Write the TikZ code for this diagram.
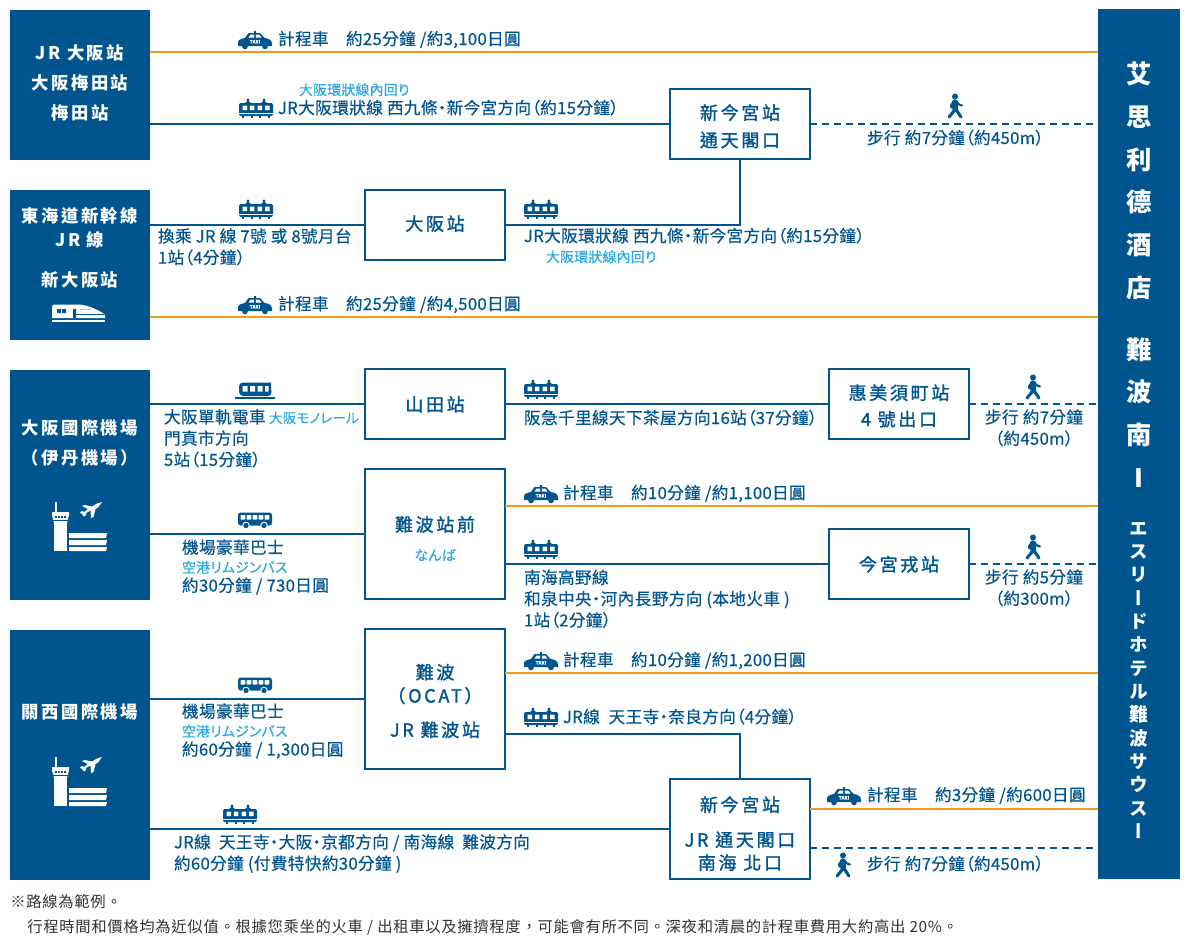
\documentclass[tikz,border=0pt]{standalone}
\usepackage{fontspec}
\setmainfont{Noto Sans CJK TC}[RawFeature={+palt},LetterSpace=2,FakeBold=0.4]
\newfontfamily\lbfont[LetterSpace=14]{Noto Sans CJK TC}
\newfontfamily\wbfont[LetterSpace=15,FakeBold=1.5]{Noto Sans CJK TC}
\newfontfamily\fnfont[LetterSpace=4.5]{Noto Sans CJK TC}
\newfontfamily\hofont[RawFeature={+vert}]{Noto Sans CJK TC}
\definecolor{brandblue}{HTML}{00558F}
\definecolor{linkorange}{HTML}{F7981D}
\definecolor{skyblue}{HTML}{29A9E0}
\definecolor{noteblack}{HTML}{333333}
\newcommand\st{\rule[-1.5pt]{0pt}{12pt}}
\newcommand\sm[1]{{\normalfont\fontsize{10.4pt}{\baselineskip}\selectfont\color{skyblue}#1}}
\newcommand\bbox[8]{%
  \pgfmathsetmacro\bw{(#5-#3)*.75}%
  \pgfmathsetmacro\bh{(#6-#4)*.75}%
  \node[#1,minimum width=\bw pt,minimum height=\bh pt] (#2) at ({(#3+#5)/2},{(#4+#6)/2})
    {\raisebox{#7}[0pt][0pt]{\begin{tabular}{@{}c@{}}#8\end{tabular}}};}
\newcommand\tx[4]{\node[txt] (#1) at (#2,#3) {#4};}
\newcommand\mtx[5][]{\node[mtxt,#1] (#2) at (#3,#4) {#5};}
\tikzset{
  bluebox/.style={fill=brandblue,text=white,inner sep=0pt,outer sep=0pt},
  whitebox/.style={draw=brandblue,line width=1.5pt,fill=white,text=brandblue,inner sep=0pt,outer sep=0pt},
  txt/.style={anchor=west,inner sep=0pt,outer sep=0pt,text=brandblue,font=\fontsize{12.5pt}{16pt}\selectfont,text height=10.5pt,text depth=1.5pt},
  mtxt/.style={anchor=west,align=left,inner sep=0pt,outer sep=0pt,text=brandblue,font=\fontsize{12.5pt}{16pt}\selectfont},
  smalltxt/.style={txt,text=skyblue,font=\fontsize{10.4pt}{12pt}\selectfont},
  link/.style={draw=brandblue,line width=1.5pt},
  orangelink/.style={draw=linkorange,line width=1.5pt},
  walklink/.style={draw=brandblue,line width=1.5pt,dash pattern=on 5.5pt off 3.5pt},
  taxiicon/.pic={
    \fill[brandblue] (-17,5) .. controls (-17.5,1) and (-15,0) .. (-10,-1) -- (-6.5,-6) -- (-1,-6) -- (-1,-8) -- (1,-8) -- (1,-6) -- (5,-6) -- (9.5,-1) .. controls (14,-.5) and (17,1) .. (17,5) -- (17,7) -- (-17,7) -- cycle;
    \fill[brandblue] (-10,7.5) circle (2.8) (10,7.5) circle (2.8);
    \fill[white] (-6.5,-1.5) -- (-4.5,-4.3) -- (-.8,-4.3) -- (-.8,-1.5) -- cycle (.8,-1.5) -- (.8,-4.3) -- (4.3,-4.3) -- (6.5,-1.5) -- cycle;
    \node[inner sep=0pt,text=white,font=\bfseries\fontsize{3.4pt}{4pt}\selectfont] (-sign) at (0,2.8) {TAXI};
  },
  trainicon/.pic={
    \fill[brandblue,rounded corners=1.5pt] (-17,8) -- (-17,-5) -- (17,-5) -- (17,8) -- cycle;
    \fill[white] (-13.5,-2.5) rectangle (-9,2) (-6.2,-2.5) rectangle (-1.7,2) (1.7,-2.5) rectangle (6.2,2) (9,-2.5) rectangle (13.5,2);
    \fill[white] (-17,4.8) rectangle (17,5.4);
    \foreach \a in {-8,8} {
      \fill[brandblue] (\a-3,-5) -- (\a,-7.5) -- (\a+3,-5) -- cycle;
      \fill[brandblue] (\a,-8) circle (1.7);
    }
    \foreach \a in {-13,-4,4,13} \fill[brandblue] (\a-1,8) rectangle (\a+1,10);
  },
  busicon/.pic={
    \fill[brandblue,rounded corners=2pt] (-17,5.5) -- (-17,-7.5) -- (17,-7.5) -- (17,5.5) -- cycle;
    \foreach \a in {-14.5,-8.5,-2.5,3.5,9.5} \fill[white,rounded corners=.5pt] (\a,-5) rectangle (\a+4.8,-.5);
    \foreach \a in {-9,9} \fill[brandblue,draw=white,line width=.7pt] (\a,5.5) circle (3.3);
  },
  monoicon/.pic={
    \fill[brandblue,rounded corners=3pt] (-16,5) -- (-16,-8.5) -- (13,-8.5) .. controls (15,-8.5) and (16,-4) .. (17,5) -- cycle;
    \fill[white] (-12.5,-5) rectangle (-7.5,.5) (-5,-5) rectangle (0,.5) (2.5,-5) rectangle (7.5,.5) (10,-5) rectangle (13.5,.5);
    \fill[brandblue] (-20,5.5) rectangle (20,7.5);
  },
  walkicon/.pic={
    \fill[brandblue] (-1,-9.5) circle (3);
    \draw[brandblue,line width=3.8pt,line cap=round] (-1,-4) -- (-1,2);
    \draw[brandblue,line width=2.3pt,line cap=round,line join=round] (-1.5,2) -- (-2,5) -- (-7,11) (-.5,2) -- (1,5) -- (5,11);
    \draw[brandblue,line width=1.6pt,line cap=round,line join=round] (0,-5) -- (3,-1.5) -- (6,-.5) (-2,-5) -- (-5,-.5) -- (-4.5,1.5);
  },
  bulleticon/.pic={
    \fill[white] (-27,5) -- (-27,-6) .. controls (-27,-8) and (-26,-8.5) .. (-24,-8.5) -- (0,-8.5) .. controls (8,-8.5) and (24,-1) .. (26,2) -- (26,5) -- cycle;
    \fill[brandblue] (-22,-4) rectangle (-18,0) (-17,-4) rectangle (-13,0) (-6,-4) rectangle (-3,5);
    \fill[brandblue] (-3,1) rectangle (25,1.7);
    \draw[skyblue!50!white,line width=.8pt] (1,-3.5) -- (12,-3.5);
    \fill[white] (-27,7) rectangle (26,8.5);
  },
  airporticon/.pic={
    \fill[white] (-24.8,-24) rectangle (-23.4,-14);
    \fill[white] (-28,-14) -- (-11,-14) -- (-11,-11) -- (-13,-3) -- (-26,-3) -- (-28,-11) -- cycle;
    \fill[white] (-26,-3) rectangle (-13,25);
    \foreach \a in {-25,-22,-19,-16} \fill[brandblue] (\a,-10.5) rectangle (\a+1.6,-8.5);
    \fill[brandblue] (-28,-6) rectangle (-11,-5);
    \fill[white] (-11,7) -- (27,7) -- (26,12) -- (-11,12) -- cycle;
    \fill[white] (-11,14) -- (27,14) -- (26,19) -- (-11,19) -- cycle;
    \fill[white] (-11,21) -- (27,21) -- (26,25) -- (-11,25) -- cycle;
    \fill[white] (22,-24) -- (18,-18.5) -- (15.5,-17) -- (13.5,-9) -- (11,-8) -- (10.5,-15.5) -- (6,-13) -- (6,-11) -- (4,-9.5) -- (2,-12) -- (0,-13.5) -- (2,-15) -- (4,-14) -- (8,-17) -- (2,-20) -- (4.5,-21) -- (12,-19.5) -- (17,-22.5) -- cycle;
  },
}
\begin{document}
\begin{tikzpicture}[x=.75pt,y=-.75pt]
\useasboundingbox (0,0) rectangle (1190,946);
\fill[white] (0,0) rectangle (1190,946);
% blue origin boxes
\bbox{bluebox,font=\lbfont\bfseries\fontsize{13pt}{22.5pt}\selectfont}{jr}{10}{10}{150}{160}{-1.5pt}{JR 大阪站\\大阪梅田站\\梅田站}
\bbox{bluebox,font=\lbfont\bfseries\fontsize{13pt}{18pt}\selectfont}{shin}{10}{190}{150}{340}{8.25pt}{東海道新幹線\\JR 線\\[12pt]新大阪站}
\bbox{bluebox,font=\lbfont\bfseries\fontsize{13pt}{22.5pt}\selectfont}{itami}{10}{370}{150}{600}{28.25pt}{大阪國際機場\\（伊丹機場）}
\bbox{bluebox,font=\lbfont\bfseries\fontsize{13pt}{22.5pt}\selectfont}{kix}{10}{630}{150}{880}{29.25pt}{關西國際機場}
\node[bluebox,minimum width=61.5pt,minimum height=652.5pt] (hotel) at (1139,444) {};
\node[anchor=north,inner sep=0pt,align=center,text=white,font=\hofont\bfseries\fontsize{19pt}{32pt}\selectfont] (hotelzh) at (1139,62) {艾\\思\\利\\德\\酒\\店\\[14.5pt]難\\波\\南\\I};
\node[anchor=north,inner sep=0pt,align=center,text=white,font=\hofont\bfseries\fontsize{14pt}{17.5pt}\selectfont] (hotelja) at (1139,522) {エ\\ス\\リ\\ー\\ド\\ホ\\テ\\ル\\難\\波\\サ\\ウ\\ス\\ー};
% white station boxes
\tikzset{wb/.style={whitebox,font=\wbfont\fontsize{13.5pt}{20.6pt}\selectfont}}
\bbox{wb}{ntmy}{670}{88.5}{810}{158.5}{-6.75pt}{新今宮站\\通天閣口}
\bbox{wb}{osaka}{365}{189.5}{505}{259.5}{-3.95pt}{大阪站}
\bbox{wb}{yamada}{365}{368.5}{505}{438.5}{-5.2pt}{山田站}
\bbox{wb,font=\wbfont\fontsize{13.5pt}{19.9pt}\selectfont}{ebisu}{829}{368.5}{969}{438.5}{-6.6pt}{惠美須町站\\4 號出口}
\bbox{wb,font=\wbfont\fontsize{13.5pt}{21.75pt}\selectfont}{nambaeki}{365}{468.5}{505}{598.5}{-8.5pt}{難波站前\\\sm{なんば}}
\bbox{wb}{imamiya}{829}{528.5}{969}{598.5}{-5.2pt}{今宮戎站}
\bbox{wb,font=\wbfont\fontsize{13.5pt}{17.6pt}\selectfont}{ocat}{365}{628.5}{505}{769}{-6.9pt}{難波\\（OCAT）\\[8pt]JR 難波站}
\bbox{wb,font=\wbfont\fontsize{13.5pt}{17.25pt}\selectfont}{shin2}{670}{778.5}{810}{879}{-9pt}{新今宮站\\[9pt]JR 通天閣口\\南海 北口}
% connectors
\draw[orangelink] (jr.east |- 0,52) -- (hotel.west |- 0,52);
\draw[link] (jr.east |- ntmy.west) -- (ntmy.west);
\draw[walklink] (ntmy.east) -- (hotel.west |- ntmy.east);
\draw[link] (shin.east |- osaka.west) -- (osaka.west);
\draw[link] (ntmy.south) |- (osaka.east);
\draw[orangelink] (shin.east |- 0,317) -- (hotel.west |- 0,317);
\draw[link] (itami.east |- yamada.west) -- (yamada.west);
\draw[link] (yamada.east) -- (ebisu.west);
\draw[walklink] (ebisu.east) -- (hotel.west |- ebisu.east);
\draw[link] (itami.east |- nambaeki.west) -- (nambaeki.west);
\draw[orangelink] (nambaeki.east |- 0,506) -- (hotel.west |- 0,506);
\draw[link] (nambaeki.east |- imamiya.west) -- (imamiya.west);
\draw[walklink] (imamiya.east) -- (hotel.west |- imamiya.east);
\draw[link] (kix.east |- ocat.west) -- (ocat.west);
\draw[orangelink] (ocat.east |- 0,673) -- (hotel.west |- 0,673);
\draw[link] (ocat.east |- 0,734) -| (shin2.north);
\draw[link] (kix.east |- shin2.west) -- (shin2.west);
\draw[orangelink] (shin2.east |- 0,809) -- (hotel.west |- 0,809);
\draw[walklink] (shin2.east |- 0,848) -- (hotel.west |- 0,848);
% icons
\pic (taxi1) at (255,39) {taxiicon};
\pic (train1) at (256,108) {trainicon};
\pic (walk1) at (956,106) {walkicon};
\pic (train2) at (256,209) {trainicon};
\pic (train3) at (541,209) {trainicon};
\pic (taxi2) at (255,304) {taxiicon};
\pic (bullet1) at (79,313) {bulleticon};
\pic (mono1) at (255,391) {monoicon};
\pic (train4) at (541,389) {trainicon};
\pic (walk2) at (1034,387) {walkicon};
\pic (air1) at (80,526) {airporticon};
\pic (bus1) at (255,520) {busicon};
\pic (taxi3) at (541,493) {taxiicon};
\pic (train5) at (541,549) {trainicon};
\pic (walk3) at (1034,547) {walkicon};
\pic (air2) at (80,781) {airporticon};
\pic (bus2) at (255,685) {busicon};
\pic (taxi4) at (541,660) {taxiicon};
\pic (train6) at (541,717) {trainicon};
\pic (train7) at (240,814) {trainicon};
\pic (taxi5) at (844,795) {taxiicon};
\pic (walk4) at (844,865) {walkicon};
% route labels
\tx{t1}{278}{39}{計程車　約25分鐘 /約3,100日圓}
\node[smalltxt] (s1) at (299,89) {大阪環狀線內回り};
\tx{t2}{278}{108}{JR大阪環狀線 西九條‧新今宮方向（約15分鐘）}
\tx{t3}{867}{138}{步行 約7分鐘（約450m）}
\mtx{t4}{158}{247}{\st 換乘 JR 線 7號 或 8號月台\\\st 1站（4分鐘）}
\tx{t5}{524}{236}{JR大阪環狀線 西九條‧新今宮方向（約15分鐘）}
\node[smalltxt] (s2) at (546,256) {大阪環狀線內回り};
\tx{t6}{278}{304}{計程車　約25分鐘 /約4,500日圓}
\mtx{t7}{164}{438.5}{\st 大阪單軌電車\\\st 門真市方向\\\st 5站（15分鐘）}
\node[smalltxt,font=\fontsize{10.1pt}{12pt}\selectfont] (s3) at (269,417) {大阪モノレール};
\tx{t8}{524}{418}{阪急千里線天下茶屋方向16站（37分鐘）}
\mtx[anchor=center,align=center]{t9}{1034}{428}{\st 步行 約7分鐘\\\st（約450m）}
\mtx[font=\fontsize{12.5pt}{14.25pt}\selectfont]{t10}{182}{567}{\st 機場豪華巴士\\\st\sm{空港リムジンバス}\\\st 約30分鐘 / 730日圓}
\tx{t11}{563}{493}{計程車　約10分鐘 /約1,100日圓}
\mtx{t12}{524}{599}{\st 南海高野線\\\st 和泉中央‧河內長野方向 (本地火車 )\\\st 1站（2分鐘）}
\mtx[anchor=center,align=center]{t13}{1034}{588}{\st 步行 約5分鐘\\\st（約300m）}
\mtx[font=\fontsize{12.5pt}{14.25pt}\selectfont]{t14}{182}{731}{\st 機場豪華巴士\\\st\sm{空港リムジンバス}\\\st 約60分鐘 / 1,300日圓}
\tx{t15}{563}{660}{計程車　約10分鐘 /約1,200日圓}
\tx{t16}{563}{717}{JR線\hspace{3.5pt} 天王寺‧奈良方向（4分鐘）}
\mtx{t17}{174}{853.5}{\st JR線\hspace{3pt} 天王寺‧大阪‧京都方向 / 南海線\hspace{3pt} 難波方向\\\st 約60分鐘 (付費特快約30分鐘 )}
\tx{t18}{867}{795}{計程車　約3分鐘 /約600日圓}
\tx{t19}{867}{864}{步行 約7分鐘（約450m）}
% note
\node[anchor=west,inner sep=0pt,text=noteblack,font=\fnfont\fontsize{11.5pt}{14pt}\selectfont] (note1) at (10,902) {※路線為範例。};
\node[anchor=west,inner sep=0pt,text=noteblack,font=\fnfont\fontsize{11.5pt}{14pt}\selectfont] (note2) at (27,927) {行程時間和價格均為近似值。根據您乘坐的火車 / 出租車以及擁擠程度，可能會有所不同。深夜和清晨的計程車費用大約高出 20\%。};
\end{tikzpicture}
\end{document}
